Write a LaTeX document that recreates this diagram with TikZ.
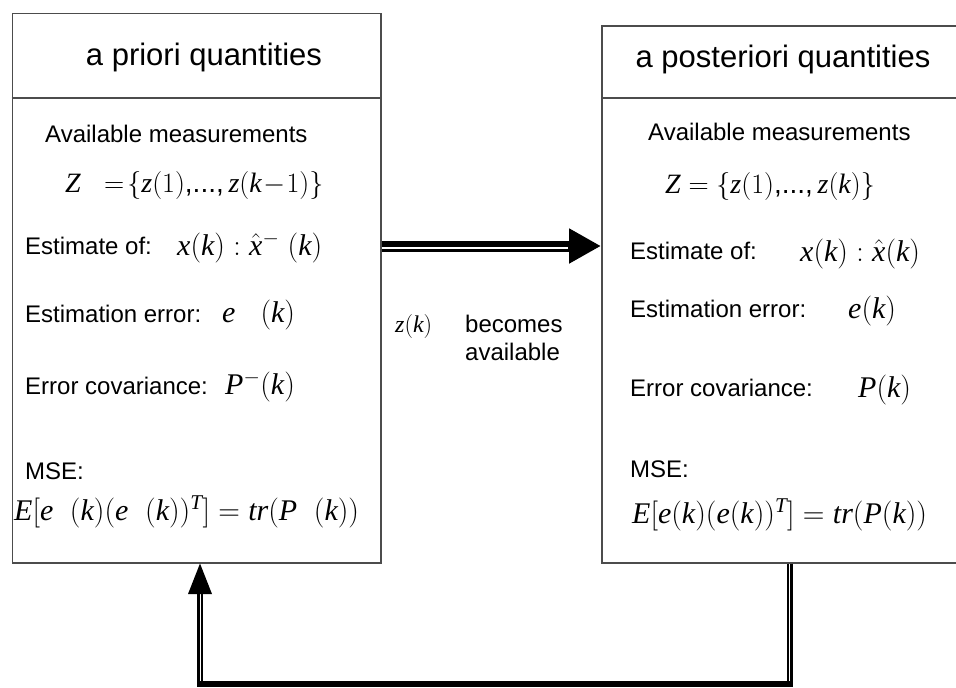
\RequirePackage{fix-cm}
\documentclass[tikz,border=0pt]{standalone}
\usepackage{fontspec}
\setmainfont{Liberation Sans}
\newfontfamily\tms{Liberation Serif}[NFSSFamily=tms]
\DeclareSymbolFont{letters}{TU}{tms}{m}{it}
\DeclareSymbolFont{operators}{TU}{tms}{m}{n}
\DeclareMathSymbol{,}{\mathpunct}{operators}{"2C}
\DeclareMathSymbol{.}{\mathord}{operators}{"2E}
\usetikzlibrary{arrows.meta}
\begin{document}
\begin{tikzpicture}[x=1pt,y=-1pt,
  box/.style={draw=black!70, line width=1.5pt, rectangle, inner sep=0pt, anchor=north west},
  sep/.style={draw=black!70, line width=1.5pt},
  txt/.style={inner sep=0pt, anchor=base west, font=\fontsize{24}{28}\selectfont},
  mth/.style={inner sep=0pt, anchor=base west, font=\fontsize{30}{34}\selectfont},
  head/.style={inner sep=0pt, anchor=base, font=\fontsize{31}{36}\selectfont},
  fat/.style={line width=11pt, black},
  feed/.style={line width=6pt, black}]
\useasboundingbox (0,0) rectangle (956,688);
% boxes
\node[box, minimum width=368.5pt, minimum height=549.5pt] (L) at (11.5,12.5) {};
\node[box, minimum width=360pt, minimum height=537pt] (R) at (601,25) {};
\coordinate (d) at (0,98);
\draw[sep] (L.west |- d) -- (L.east |- d);
\draw[sep] (R.west |- d) -- (R.east |- d);
% headers
\node[head] (hL) at (204,65) {a priori quantities};
\node[head] (hR) at (783,67) {a posteriori quantities};
% left contents
\node[txt] (aL) at (45,142) {Available measurements};
\node[mth, font=\fontsize{28}{32}\selectfont] (zL) at (65,192) {$Z\;\;=\!\{z(1){,}...,z(k\!-\!1)\}$};
\node[txt] (eL) at (25,254) {Estimate of:};
\node[mth] (exL) at (177,255) {$x(k):\hat{x}^{-}\;(k)$};
\node[txt] (erL) at (25,322) {Estimation error:};
\node[mth] (erxL) at (222,322) {$e\;\;\;(k)$};
\node[txt] (cvL) at (25,394) {Error covariance:};
\node[mth] (cvxL) at (225,394) {$P^{-}(k)$};
\node[txt] (mL) at (25,479) {MSE:};
\node[mth] (fL) at (14,520) {$E[e\;\;(k)(e\;\;(k))^T]=tr(P\;\;(k))$};
% right contents
\node[txt] (aR) at (648,140) {Available measurements};
\node[mth, font=\fontsize{28}{32}\selectfont] (zR) at (665,193) {$Z=\{z(1){,}...,z(k)\}$};
\node[txt] (eR) at (630,259) {Estimate of:};
\node[mth] (exR) at (800,261) {$x(k):\hat{x}(k)$};
\node[txt] (erR) at (630,317) {Estimation error:};
\node[mth] (erxR) at (848,318) {$e(k)$};
\node[txt] (cvR) at (630,396) {Error covariance:};
\node[mth] (cvxR) at (858,397) {$P(k)$};
\node[txt] (mR) at (630,477) {MSE:};
\node[mth] (fR) at (632,523) {$E[e(k)(e(k))^T]=tr(P(k))$};
% middle label
\node[txt] (zk) at (395,332) {$z(k)$};
\node[txt] (bc) at (465,332) {becomes};
\node[txt] (av) at (465,360) {available};
% forward arrow
\coordinate (ya) at (0,246);
\coordinate (yw) at (0,248);
\coordinate (hx) at (568,0);
\draw[fat, -{Triangle[length=32pt,width=33pt]}] (L.east |- ya) -- (R.west |- ya);
\draw[white, line width=1.5pt] (L.east |- yw) -- (hx |- yw);
% feedback arrow
\coordinate (fx1) at (790,0);
\coordinate (fx2) at (200,0);
\coordinate (fy) at (0,684);
\coordinate (ab) at (0,592);
\draw[feed, line join=miter] (R.south -| fx1) -- (fx1 |- fy) -- (fx2 |- fy) -- (fx2 |- ab);
\draw[white, line width=1pt] ([xshift=-0.8pt]R.south -| fx1) -- ([xshift=-0.8pt,yshift=3pt]fx1 |- fy);
\draw[white, line width=1pt] ([xshift=0.8pt,yshift=3pt]fx2 |- fy) -- ([xshift=0.8pt]fx2 |- ab);
\fill[black] (L.south -| fx2) -- ++(-12,30.5) -- ++(24,0) -- cycle;
\end{tikzpicture}
\end{document}
